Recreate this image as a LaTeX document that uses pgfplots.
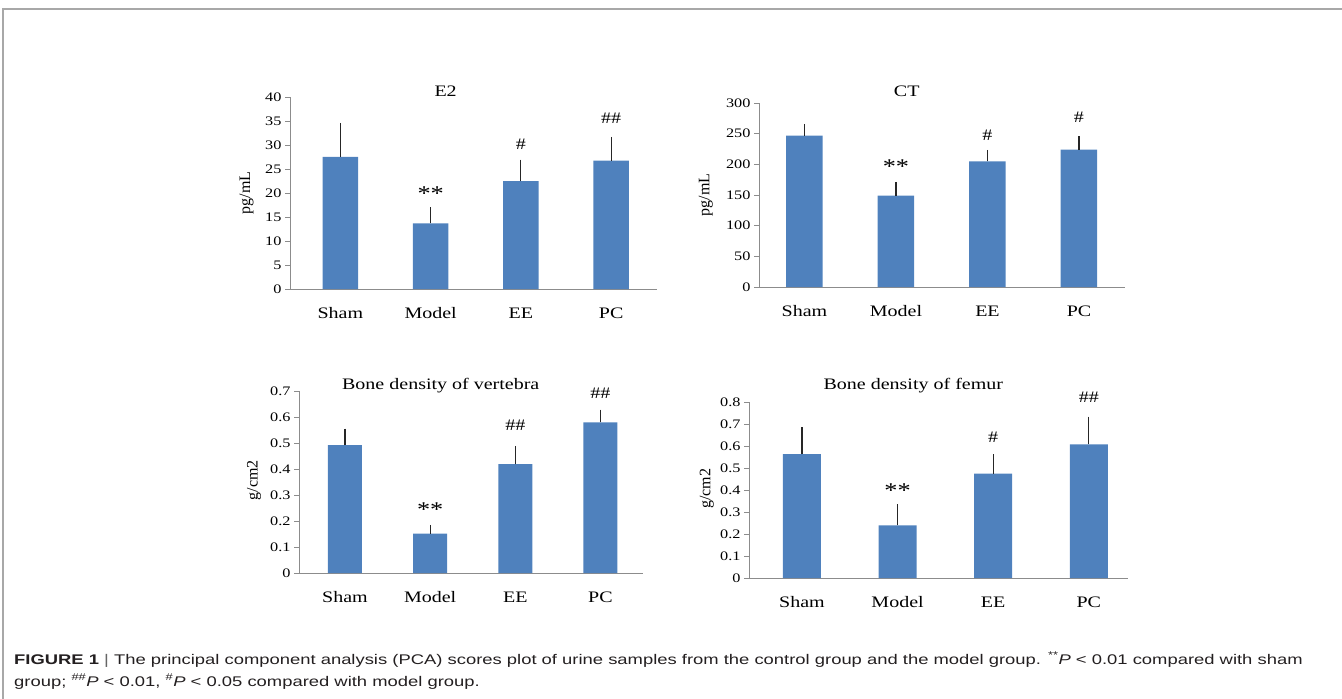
\documentclass[border=0pt]{standalone}
\usepackage{pgfplots}
\pgfplotsset{compat=1.18}
\usepackage{fontspec}
\setmainfont{Liberation Serif}
\newfontfamily\chartfont[FakeStretch=1.25]{Liberation Serif}
\newfontfamily\capfont[FakeStretch=1.315]{Liberation Sans}
\definecolor{barblue}{HTML}{4F81BD}
\definecolor{axisgray}{HTML}{8C8C8C}
\definecolor{framegray}{HTML}{A8A8A8}
\definecolor{captext}{HTML}{231F20}
\pgfplotsset{
  panel/.style={
    scale only axis,
    axis x line*=bottom, axis y line*=left,
    axis line style={draw=axisgray, line width=1pt, -},
    xtick={0,1,2,3}, xticklabels={Sham,Model,EE,PC},
    x tick style={draw=none},
    y tick style={draw=axisgray, line width=1pt},
    tick align=outside, major tick length=5pt,
    ymin=0, clip=false, enlargelimits=false,
    /pgf/number format/assume math mode=true,
    xticklabel style={font=\chartfont\fontsize{16}{18}\selectfont, anchor=base, yshift=-24.5pt},
    yticklabel style={font=\chartfont\fontsize{13}{15}\selectfont, anchor=east},
    ylabel style={font=\fontsize{16}{18}\selectfont, anchor=center},
    title style={font=\chartfont\fontsize{16}{18}\selectfont, anchor=base, yshift=-6pt},
    ybar,
  },
  bars/.style={fill=barblue, draw=none,
    error bars/.cd, y dir=plus, y explicit,
    error bar style={line width=1.1pt, black!85},
    error mark options={line width=1.1pt, black!85, mark size=3.2pt}},
}
\newcommand{\ann}[1]{\chartfont\fontsize{16}{18}\selectfont #1}
\newcommand{\stars}{\chartfont\fontsize{21}{22}\selectfont **}
\begin{document}
\begin{tikzpicture}
\useasboundingbox (0,0) rectangle (1342pt,-699pt);
% frame
\draw[framegray, line width=1.2pt] (3pt,-699pt) -- (3pt,-9pt) -- (1342pt,-9pt);

% ---- E2 ----
\begin{axis}[panel, at={(290pt,-289pt)}, anchor=south west,
  width=367pt, height=192pt, ymax=40, ytick={0,5,...,40},
  xmin=-0.558, xmax=3.508, bar width=35.5pt,
  ylabel={pg/mL}, ylabel style={at={(axis description cs:-0.118,0.5)}},
  title={E2}, title style={at={(axis description cs:0.424,1.005)}}]
\addplot[bars] coordinates {(0,27.55) +- (0,6.4) (1,13.66) +- (0,2.7) (2,22.5) +- (0,3.8) (3,26.76) +- (0,4.25)};
\node[yshift=-2.5pt] at (axis cs:1,20.3) {\stars};
\node at (axis cs:2,30.2) {\ann{\#}};
\node at (axis cs:3,35.6) {\ann{\#\#}};
\end{axis}

% ---- CT ----
\begin{axis}[panel, at={(759pt,-287pt)}, anchor=south west,
  width=366pt, height=184pt, ymax=300, ytick={0,50,...,300},
  xmin=-0.497, xmax=3.503, bar width=36.5pt,
  ylabel={pg/mL}, ylabel style={at={(axis description cs:-0.1456,0.5)}},
  title={CT}, title style={at={(axis description cs:0.4036,1.034)}}]
\addplot[bars] coordinates {(0,246.7) +- (0,14.2) (1,148.9) +- (0,17.4) (2,204.9) +- (0,13.6) (3,223.9) +- (0,16.9)};
\node[yshift=-2.5pt] at (axis cs:1,200.5) {\stars};
\node at (axis cs:2,246.7) {\ann{\#}};
\node at (axis cs:3,276) {\ann{\#}};
\end{axis}

% ---- vertebra ----
\begin{axis}[panel, at={(299pt,-573pt)}, anchor=south west,
  width=344pt, height=182pt, ymax=0.7, ytick={0,0.1,...,0.7},
  xmin=-0.54, xmax=3.5, bar width=34pt,
  ylabel={g/cm2}, ylabel style={at={(axis description cs:-0.1308,0.511)}},
  title={Bone density of vertebra}, title style={at={(axis description cs:0.412,1.009)}}]
\addplot[bars] coordinates {(0,0.492) +- (0,0.051) (1,0.151) +- (0,0.022) (2,0.419) +- (0,0.058) (3,0.5795) +- (0,0.037)};
\node[yshift=-2.5pt] at (axis cs:1,0.255) {\stars};
\node at (axis cs:2,0.567) {\ann{\#\#}};
\node at (axis cs:3,0.691) {\ann{\#\#}};
\end{axis}

% ---- femur ----
\begin{axis}[panel, at={(749pt,-578pt)}, anchor=south west,
  width=379pt, height=176pt, ymax=0.8, ytick={0,0.1,...,0.8},
  xmin=-0.554, xmax=3.41, bar width=38pt,
  ylabel={g/cm2}, ylabel style={at={(axis description cs:-0.1116,0.506)}},
  title={Bone density of femur}, title style={at={(axis description cs:0.4335,1.072)}}]
\addplot[bars] coordinates {(0,0.5636) +- (0,0.107) (1,0.239) +- (0,0.081) (2,0.474) +- (0,0.073) (3,0.6076) +- (0,0.112)};
\node[yshift=-2.5pt] at (axis cs:1,0.408) {\stars};
\node at (axis cs:2,0.64) {\ann{\#}};
\node at (axis cs:3,0.821) {\ann{\#\#}};
\end{axis}

% caption
\node[anchor=base west, inner sep=0pt, text=captext, font=\capfont\fontsize{14}{16}\selectfont] at (14pt,-664pt)
  {{\bfseries FIGURE 1} \textcolor{black!60}{|} The principal component analysis (PCA) scores plot of urine samples from the control group and the model group. \textsuperscript{**}\textit{P} {\textless} 0.01 compared with sham};
\node[anchor=base west, inner sep=0pt, text=captext, font=\capfont\fontsize{14}{16}\selectfont] at (14pt,-686pt)
  {group; \textsuperscript{\#\#}\textit{P} {\textless} 0.01, \textsuperscript{\#}\textit{P} {\textless} 0.05 compared with model group.};
\end{tikzpicture}
\end{document}
